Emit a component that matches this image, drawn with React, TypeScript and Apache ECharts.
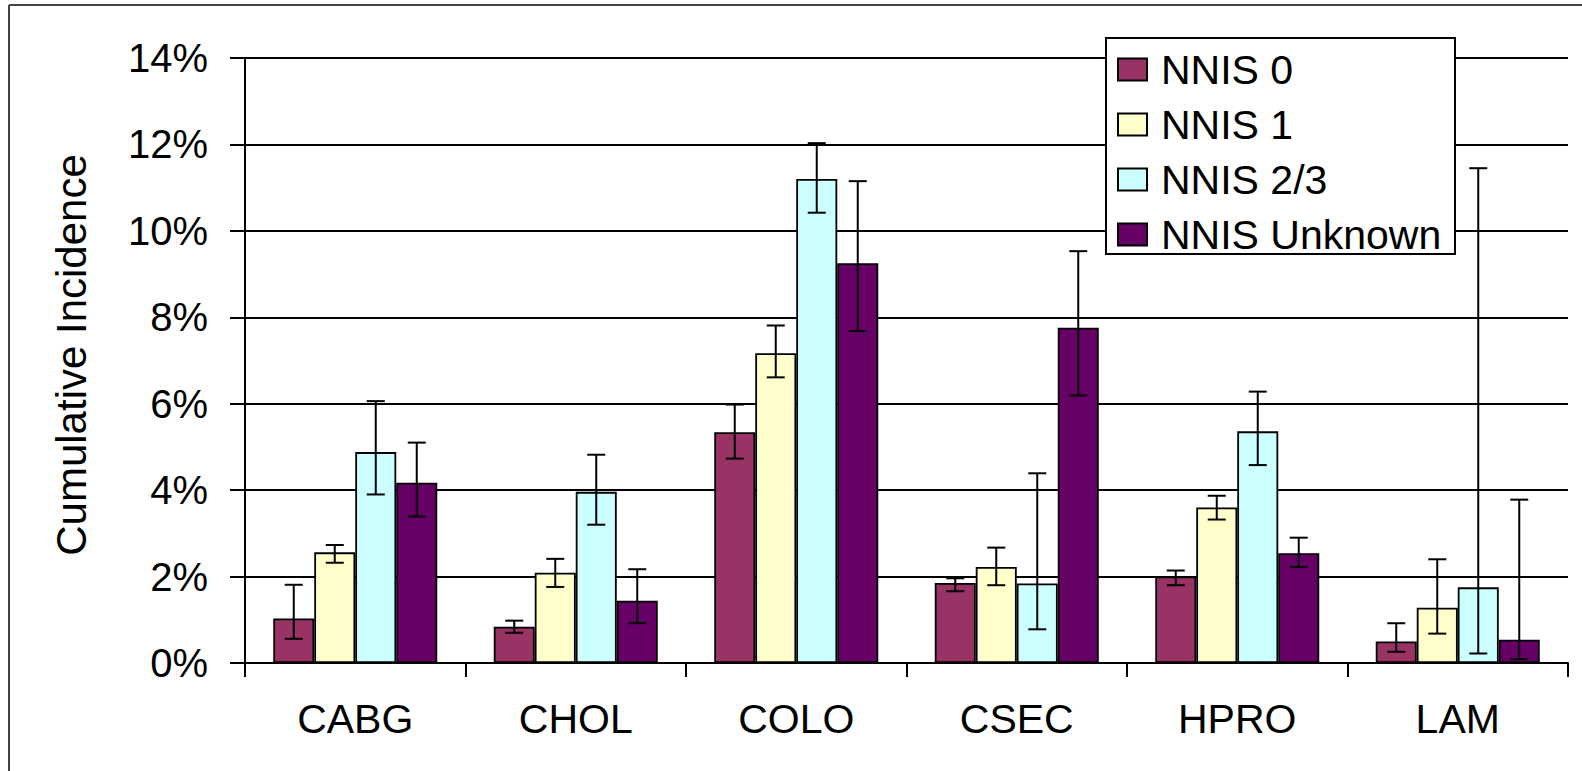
import React, { useEffect, useRef } from "react";
import * as echarts from "echarts";

const categories = ["CABG", "CHOL", "COLO", "CSEC", "HPRO", "LAM"];
const yTicks = [0, 2, 4, 6, 8, 10, 12, 14];

const seriesNames = ["NNIS 0", "NNIS 1", "NNIS 2/3", "NNIS Unknown"];
const seriesColors = ["#993366", "#FFFFCC", "#CCFFFF", "#660066"];

const nnis0 = [1.03, 0.84, 5.34, 1.85, 2.0, 0.5];
const nnis0Low = [0.56, 0.7, 4.73, 1.66, 1.8, 0.26];
const nnis0High = [1.81, 0.98, 5.98, 1.96, 2.14, 0.92];

const nnis1 = [2.56, 2.09, 7.17, 2.22, 3.6, 1.28];
const nnis1Low = [2.32, 1.76, 6.61, 1.8, 3.32, 0.68];
const nnis1High = [2.73, 2.41, 7.81, 2.67, 3.87, 2.4];

const nnis23 = [4.88, 3.96, 11.2, 1.84, 5.36, 1.75];
const nnis23Low = [3.9, 3.2, 10.42, 0.78, 4.58, 0.22];
const nnis23High = [6.06, 4.82, 12.03, 4.39, 6.28, 11.45];

const nnisU = [4.17, 1.44, 9.25, 7.76, 2.54, 0.54];
const nnisULow = [3.39, 0.92, 7.68, 6.19, 2.22, 0.09];
const nnisUHigh = [5.1, 2.17, 11.15, 9.53, 2.9, 3.78];

const values = [nnis0, nnis1, nnis23, nnisU];
const lows = [nnis0Low, nnis1Low, nnis23Low, nnisULow];
const highs = [nnis0High, nnis1High, nnis23High, nnisUHigh];

const FONT = "'Liberation Sans', Arial, sans-serif";
const BAR_W = 41;

export default function App() {
  const ref = useRef<HTMLDivElement>(null);
  useEffect(() => {
    if (!ref.current) return;
    const chart = echarts.init(ref.current, null, { renderer: "svg" });

    const barSeries = seriesNames.map((name, i) => ({
      name,
      type: "bar",
      data: values[i],
      barWidth: BAR_W,
      barGap: "0%",
      itemStyle: { color: seriesColors[i], borderColor: "#000", borderWidth: 1.8 },
      z: 2,
    }));

    const errSeries = seriesNames.map((name, i) => ({
      name: "err-" + name,
      type: "custom",
      z: 3,
      encode: { x: 0, y: [1, 2] },
      data: categories.map((_, c) => [c, lows[i][c], highs[i][c]]),
      renderItem: (params: any, api: any) => {
        const c = api.value(0);
        const lo = api.coord([c, api.value(1)]);
        const hi = api.coord([c, api.value(2)]);
        const cx = lo[0] + (i - 1.5) * BAR_W;
        const cap = 9;
        const style = { stroke: "#000", lineWidth: 2 };
        return {
          type: "group",
          children: [
            { type: "line", shape: { x1: cx, y1: lo[1], x2: cx, y2: hi[1] }, style },
            { type: "line", shape: { x1: cx - cap, y1: hi[1], x2: cx + cap, y2: hi[1] }, style },
            { type: "line", shape: { x1: cx - cap, y1: lo[1], x2: cx + cap, y2: lo[1] }, style },
          ],
        };
      },
    }));

    chart.setOption({
      animation: false,
      backgroundColor: "#fff",
      textStyle: { fontFamily: FONT },
      grid: { left: 245, top: 58, width: 1323, height: 605, containLabel: false },
      legend: {
        data: seriesNames,
        orient: "vertical",
        left: 1106,
        top: 49,
        padding: [0, 0, 0, 11],
        icon: "rect",
        itemWidth: 29,
        itemHeight: 22,
        itemGap: 14,
        textStyle: { fontFamily: FONT, fontSize: 41, color: "#000", lineHeight: 40, padding: [0, 0, 0, 9] },
        z: 10,
      },
      xAxis: {
        type: "category",
        data: categories,
        boundaryGap: true,
        axisLine: { show: true, lineStyle: { color: "#000", width: 2 } },
        axisTick: { show: true, length: 14, interval: 0, lineStyle: { color: "#000", width: 2 } },
        axisLabel: { fontFamily: FONT, fontSize: 41, color: "#000", margin: 35, interval: 0 },
      },
      yAxis: {
        type: "value",
        min: 0,
        max: 14,
        interval: 2,
        axisLine: { show: true, lineStyle: { color: "#000", width: 2 } },
        axisTick: { show: true, length: 15, lineStyle: { color: "#000", width: 2 } },
        splitLine: { show: true, lineStyle: { color: "#000", width: 2 } },
        axisLabel: {
          fontFamily: FONT,
          fontSize: 40,
          color: "#000",
          margin: 37,
          formatter: (v: number) => (yTicks.includes(v) ? v + "%" : ""),
        },
      },
      graphic: [
        { type: "line", shape: { x1: 9, y1: 5, x2: 1582, y2: 5 }, style: { stroke: "#444", lineWidth: 2 }, z: 10 },
        { type: "line", shape: { x1: 9, y1: 5, x2: 9, y2: 771 }, style: { stroke: "#444", lineWidth: 2 }, z: 10 },
        {
          type: "rect",
          shape: { x: 1106, y: 38, width: 349, height: 216 },
          style: { fill: "#fff", stroke: "#000", lineWidth: 2 },
          z: 5,
        },
        {
          type: "text",
          x: 71,
          y: 355,
          rotation: Math.PI / 2,
          style: {
            text: "Cumulative Incidence",
            fontFamily: FONT,
            fontSize: 42,
            fill: "#000",
            textAlign: "center",
            textVerticalAlign: "middle",
          },
          z: 10,
        },
      ],
      series: [...barSeries, ...errSeries],
    });

    return () => chart.dispose();
  }, []);

  return (
    <div
      ref={ref}
      style={{ position: "absolute", left: 0, top: 0, width: 1582, height: 771 }}
    />
  );
}
